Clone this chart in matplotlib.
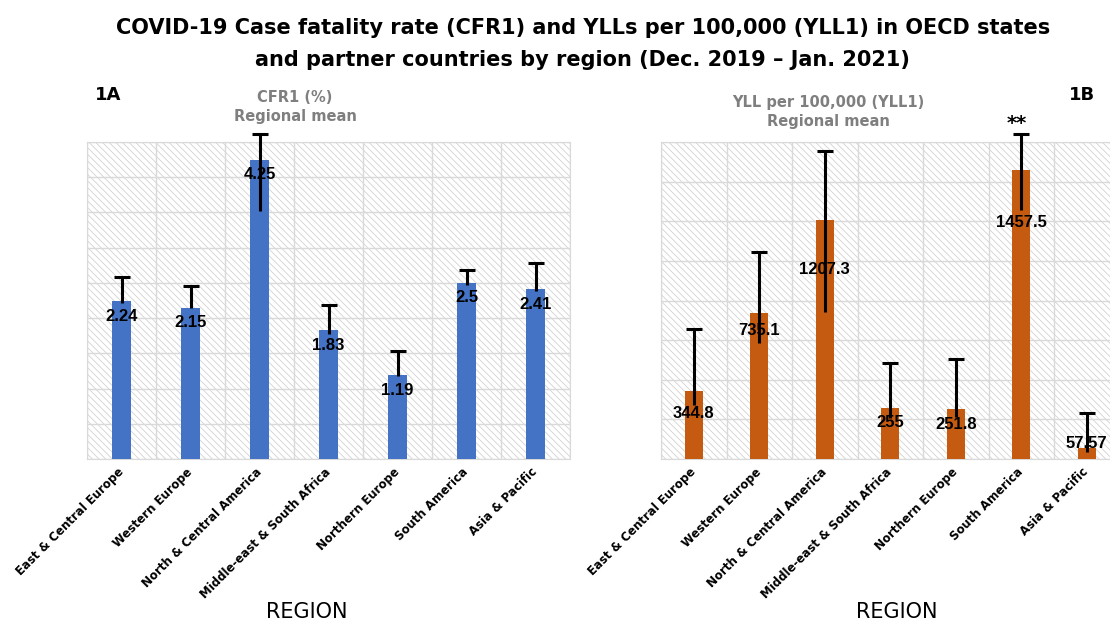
import matplotlib.pyplot as plt
from matplotlib.patches import Rectangle
import numpy as np

regions = ["East & Central Europe", "Western Europe", "North & Central America",
           "Middle-east & South Africa", "Northern Europe", "South America",
           "Asia & Pacific"]

cfr = [2.24, 2.15, 4.25, 1.83, 1.19, 2.5, 2.41]
cfr_err_hi = [0.35, 0.31, 0.36, 0.36, 0.35, 0.18, 0.37]
cfr_err_lo = [0.02, 0.01, 0.73, 0.05, 0.01, 0.03, 0.03]
cfr_labels = ["2.24", "2.15", "4.25", "1.83", "1.19", "2.5", "2.41"]

yll = [344.8, 735.1, 1207.3, 255, 251.8, 1457.5, 57.57]
yll_err_hi = [311, 311, 349, 228, 251, 183, 176]
yll_err_lo = [73, 151, 464, 50, 38, 200, 21]
yll_labels = ["344.8", "735.1", "1207.3", "255", "251.8", "1457.5", "57.57"]

blue = "#4472C4"
orange = "#C55A11"
grid = "#d9d9d9"
grey_txt = "#7f7f7f"

plt.rcParams["hatch.linewidth"] = 0.6

W, H = 1110, 626
fig = plt.figure(figsize=(W / 100, H / 100), dpi=100)


def px(x0, y0, x1, y1):
    return [x0 / W, 1 - y1 / H, (x1 - x0) / W, (y1 - y0) / H]


def panel(rect, vals, lo, hi, labels, color, ymax, ystep, lbl_off):
    ax = fig.add_axes(rect)
    x = np.arange(len(vals))
    bg = Rectangle((0, 0), 1, 1, transform=ax.transAxes, fc="white",
                   ec="#d2d2d2", lw=0, hatch="\\\\\\\\\\", zorder=0)
    ax.add_patch(bg)
    ax.bar(x, vals, 0.28, color=color, zorder=3)
    # error bars: whisker line plus a cap on the upper end only
    ax.errorbar(x, vals, yerr=[lo, hi], fmt="none", ecolor="black",
                elinewidth=2.2, capsize=0, zorder=4, clip_on=False)
    ax.plot(x, np.array(vals) + np.array(hi), ls="none", marker="_",
            ms=11, mew=2.2, color="black", zorder=4, clip_on=False)
    for xi, v, s, off in zip(x, vals, labels, lbl_off):
        ax.annotate(s, (xi, v), xytext=(0, -off), textcoords="offset pixels",
                    ha="center", va="center", fontsize=12, fontweight="bold",
                    family="Liberation Sans", zorder=5)
    ax.set_xlim(-0.5, len(vals) - 0.5)
    ax.set_ylim(0, ymax)
    ax.set_yticks(np.arange(0, ymax + ystep / 2, ystep))
    ax.set_xticks(np.arange(-0.5, len(vals)), minor=True)
    ax.grid(True, which="major", axis="y", color=grid, lw=1, zorder=1)
    ax.grid(True, which="minor", axis="x", color=grid, lw=1, zorder=1)
    ax.set_axisbelow(True)
    ax.tick_params(which="both", length=0, left=False, labelleft=False,
                   pad=8)
    ax.set_xticks(x)
    ax.set_xticklabels(regions, rotation=45, ha="right",
                       rotation_mode="anchor", fontsize=8.5,
                       fontweight="bold", va="center")
    for sp in ax.spines.values():
        sp.set_color(grid)
    return ax


ax1 = panel(px(87, 142, 570, 459), cfr, cfr_err_lo, cfr_err_hi, cfr_labels,
            blue, 4.5, 0.5, [15] * 7)
ax2 = panel(px(661, 142, 1119.5, 459), yll, yll_err_lo, yll_err_hi,
            yll_labels, orange, 1600, 200, [23, 17, 50, 14, 15, 52, -4])

fig.text(307 / W, 1 - 612 / H, "REGION", ha="center", va="center",
         fontsize=15)
fig.text(897 / W, 1 - 612 / H, "REGION", ha="center", va="center",
         fontsize=15)

fig.text(0.525, 1 - 28 / H,
         "COVID-19 Case fatality rate (CFR1) and YLLs per 100,000 (YLL1) in OECD states",
         ha="center", va="center", fontsize=15, fontweight="bold")
fig.text(0.525, 1 - 60 / H,
         "and partner countries by region (Dec. 2019 \u2013 Jan. 2021)",
         ha="center", va="center", fontsize=15, fontweight="bold")

fig.text(95 / W, 1 - 95 / H, "1A", fontsize=13, fontweight="bold",
         va="center", ha="left")
fig.text(1095 / W, 1 - 95 / H, "1B", fontsize=13, fontweight="bold",
         va="center", ha="right")

fig.text(295 / W, 1 - 107 / H, "CFR1 (%)\nRegional mean", ha="center",
         va="center", fontsize=10.5, fontweight="bold", color=grey_txt,
         linespacing=1.3)
fig.text(828 / W, 1 - 112 / H, "YLL per 100,000 (YLL1)\nRegional mean",
         ha="center", va="center", fontsize=10.5, fontweight="bold",
         color=grey_txt, linespacing=1.3)
fig.text(1017 / W, 1 - 124 / H, "**", ha="center", va="center",
         fontsize=14, fontweight="bold")

fig.savefig("out.png", dpi=100, facecolor="white")
